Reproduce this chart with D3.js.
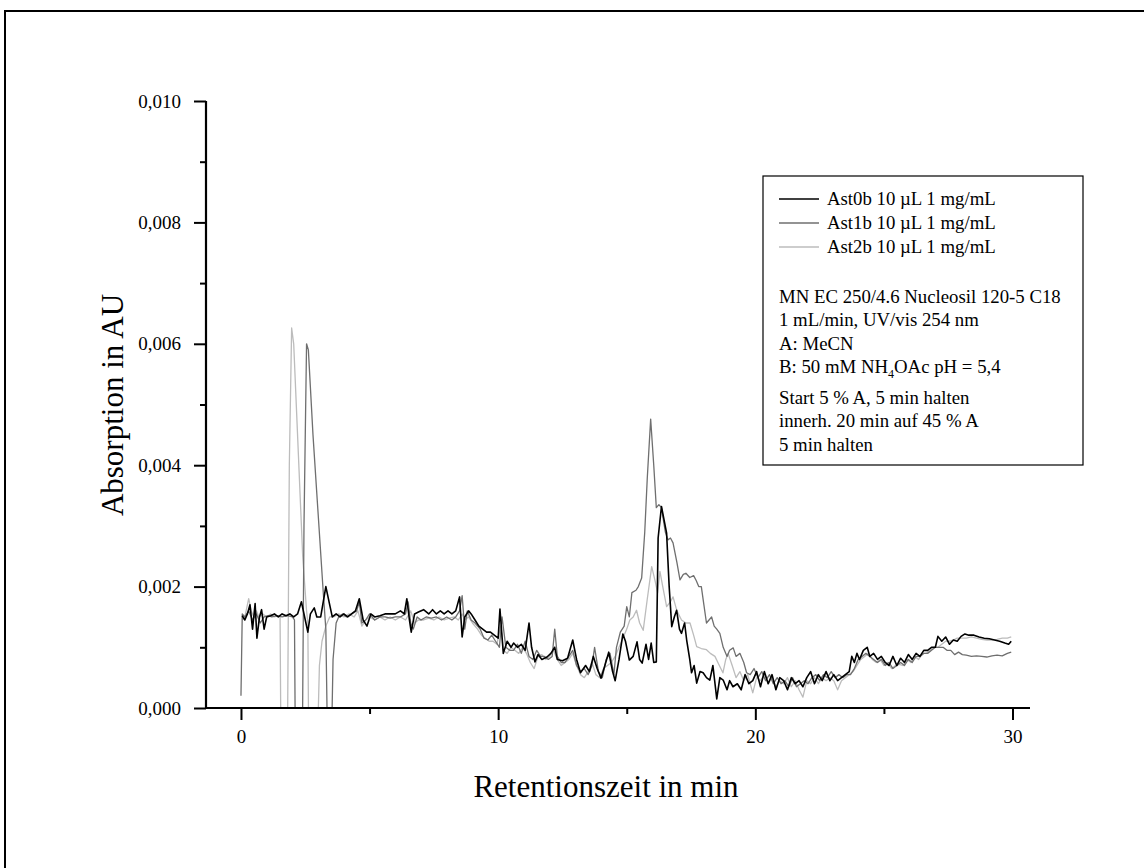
<!DOCTYPE html>
<html>
<head>
<meta charset="utf-8">
<script src="https://cdn.jsdelivr.net/npm/d3@7"></script>
<style>
  html, body { margin: 0; padding: 0; background: #fff; }
  svg { display: block; }
  text { font-family: "Liberation Serif", "Times New Roman", serif; fill: #000; }
</style>
</head>
<body>
<svg id="chart" width="1144" height="868"></svg>
<script>
// ---- data (absorbance in mAU, i.e. ×10^-3 AU; time in min) ----
const seriesNames = ["Ast0b 10 µL 1 mg/mL", "Ast1b 10 µL 1 mg/mL", "Ast2b 10 µL 1 mg/mL"];
const seriesColors = ["#000000", "#6f6f6f", "#bcbcbc"];

const ast0b = [[0.05,1.52],[0.15,1.45],[0.25,1.55],[0.35,1.7],[0.45,1.3],[0.55,1.72],[0.62,1.15],[0.72,1.5],[0.8,1.62],[0.9,1.3],[1.0,1.5],[1.15,1.52],[1.3,1.55],[1.45,1.5],[1.6,1.55],[1.75,1.52],[1.9,1.55],[2.05,1.5],[2.2,1.55],[2.35,1.75],[2.5,1.45],[2.6,1.25],[2.7,1.55],[2.85,1.65],[2.95,1.5],[3.1,1.5],[3.3,2.0],[3.45,1.7],[3.55,1.5],[3.7,1.55],[3.85,1.5],[4.0,1.55],[4.15,1.5],[4.3,1.55],[4.45,1.6],[4.6,1.8],[4.75,1.45],[4.9,1.35],[5.05,1.55],[5.2,1.5],[5.4,1.52],[5.6,1.55],[5.8,1.55],[6.0,1.55],[6.2,1.6],[6.35,1.55],[6.45,1.8],[6.55,1.45],[6.62,1.25],[6.75,1.55],[6.9,1.58],[7.1,1.62],[7.3,1.55],[7.45,1.62],[7.6,1.55],[7.75,1.6],[7.9,1.55],[8.05,1.6],[8.2,1.55],[8.35,1.6],[8.5,1.83],[8.6,1.17],[8.7,1.5],[8.85,1.6],[8.95,1.55],[9.1,1.45],[9.25,1.35],[9.4,1.3],[9.55,1.25],[9.7,1.25],[9.85,1.2],[10.0,1.15],[10.07,1.63],[10.2,0.9],[10.35,1.1],[10.5,1.0],[10.6,1.07],[10.75,1.0],[10.9,1.05],[11.05,0.95],[11.2,1.4],[11.3,1.0],[11.43,0.76],[11.55,0.88],[11.7,0.8],[11.9,0.84],[12.05,0.9],[12.2,1.0],[12.3,0.8],[12.5,0.78],[12.7,0.82],[12.9,1.12],[13.05,0.8],[13.2,0.58],[13.4,0.7],[13.55,0.6],[13.7,0.85],[13.85,0.65],[14.0,0.49],[14.15,0.7],[14.3,0.92],[14.45,0.6],[14.55,0.45],[14.7,0.8],[14.85,1.22],[14.95,1.1],[15.1,0.79],[15.25,0.85],[15.4,1.09],[15.5,0.8],[15.6,0.74],[15.75,1.05],[15.85,0.8],[15.95,1.07],[16.05,0.75],[16.15,0.76],[16.22,2.8],[16.35,3.32],[16.55,2.88],[16.65,2.0],[16.75,1.34],[16.85,1.5],[16.94,1.61],[17.05,1.3],[17.13,1.23],[17.25,1.4],[17.33,1.12],[17.45,0.8],[17.52,0.58],[17.62,0.7],[17.72,0.41],[17.85,0.6],[17.97,0.58],[18.1,0.5],[18.23,0.46],[18.35,0.7],[18.5,0.15],[18.62,0.5],[18.75,0.46],[18.9,0.3],[19.0,0.45],[19.13,0.35],[19.3,0.4],[19.45,0.3],[19.6,0.55],[19.75,0.4],[19.9,0.45],[20.05,0.6],[20.2,0.35],[20.35,0.6],[20.5,0.4],[20.65,0.55],[20.8,0.3],[20.95,0.5],[21.1,0.45],[21.25,0.3],[21.4,0.5],[21.55,0.4],[21.7,0.45],[21.85,0.35],[22.0,0.5],[22.15,0.6],[22.3,0.4],[22.45,0.55],[22.6,0.45],[22.75,0.6],[22.9,0.45],[23.05,0.55],[23.2,0.45],[23.35,0.5],[23.5,0.55],[23.65,0.6],[23.75,0.85],[23.85,0.75],[23.95,0.9],[24.05,0.8],[24.2,0.95],[24.35,1.0],[24.45,0.85],[24.6,0.9],[24.75,0.8],[24.9,0.85],[25.05,0.75],[25.2,0.7],[25.35,0.85],[25.5,0.7],[25.65,0.82],[25.8,0.75],[25.95,0.88],[26.1,0.8],[26.25,0.9],[26.4,0.85],[26.55,0.95],[26.7,0.95],[26.85,1.0],[27.0,1.0],[27.1,1.18],[27.25,1.1],[27.4,1.17],[27.55,1.05],[27.7,1.12],[27.85,1.1],[28.0,1.18],[28.15,1.22],[28.3,1.2],[28.5,1.2],[28.7,1.17],[28.9,1.15],[29.1,1.14],[29.3,1.12],[29.5,1.1],[29.7,1.07],[29.85,1.05],[29.95,1.1]];

const ast1b = [[0.0,0.2],[0.05,1.55],[0.15,1.5],[0.3,1.6],[0.45,1.45],[0.6,1.55],[0.75,1.4],[0.9,1.5],[1.05,1.52],[1.2,1.5],[1.4,1.52],[1.6,1.5],[1.8,1.52],[2.0,1.5],[2.08,1.45],[2.12,-1],[2.38,-1],[2.45,3.0],[2.55,6.0],[2.62,5.9],[2.8,4.5],[3.0,3.2],[3.2,1.9],[3.3,1.3],[3.38,-1],[3.5,-1],[3.58,0.8],[3.7,1.4],[3.8,1.5],[3.95,1.55],[4.1,1.5],[4.3,1.55],[4.5,1.6],[4.6,1.75],[4.7,1.4],[4.85,1.45],[5.0,1.55],[5.2,1.45],[5.4,1.5],[5.6,1.5],[5.8,1.48],[6.0,1.5],[6.2,1.5],[6.4,1.55],[6.5,1.75],[6.6,1.4],[6.7,1.3],[6.85,1.5],[7.0,1.45],[7.2,1.5],[7.4,1.48],[7.6,1.5],[7.8,1.45],[8.0,1.5],[8.2,1.45],[8.35,1.5],[8.5,1.6],[8.6,1.85],[8.7,1.3],[8.8,1.6],[8.95,1.45],[9.1,1.4],[9.3,1.3],[9.45,1.15],[9.6,1.12],[9.75,1.2],[9.9,1.1],[10.05,1.0],[10.15,1.5],[10.3,1.0],[10.45,0.95],[10.6,0.95],[10.75,1.05],[10.9,0.9],[11.05,1.1],[11.2,0.85],[11.35,0.8],[11.5,0.95],[11.65,0.85],[11.8,0.85],[11.95,0.8],[12.1,0.85],[12.2,1.3],[12.3,0.85],[12.45,0.75],[12.6,0.75],[12.75,0.85],[12.9,0.95],[13.05,0.7],[13.2,0.6],[13.35,0.65],[13.5,0.55],[13.65,0.7],[13.75,1.0],[13.9,0.6],[14.05,0.5],[14.2,0.8],[14.35,0.9],[14.5,0.55],[14.6,1.0],[14.75,1.25],[14.9,1.35],[15.0,1.67],[15.1,1.5],[15.2,1.9],[15.36,1.94],[15.45,2.0],[15.58,2.14],[15.7,2.9],[15.8,3.8],[15.93,4.76],[16.05,4.0],[16.15,3.3],[16.25,3.35],[16.35,3.3],[16.5,2.9],[16.6,2.77],[16.7,2.8],[16.8,2.72],[16.95,2.4],[17.07,2.11],[17.2,2.2],[17.3,2.22],[17.45,2.15],[17.6,2.18],[17.7,2.1],[17.8,2.0],[17.9,2.0],[18.0,1.7],[18.1,1.4],[18.2,1.45],[18.3,1.5],[18.4,1.35],[18.5,1.3],[18.62,1.23],[18.75,1.0],[18.9,0.85],[19.0,0.95],[19.14,0.99],[19.25,0.85],[19.4,0.9],[19.55,0.75],[19.66,0.58],[19.8,0.55],[19.95,0.65],[20.1,0.5],[20.25,0.6],[20.4,0.45],[20.55,0.55],[20.7,0.4],[20.85,0.5],[21.0,0.4],[21.15,0.45],[21.3,0.35],[21.45,0.5],[21.6,0.35],[21.75,0.4],[21.9,0.45],[22.05,0.4],[22.2,0.5],[22.35,0.55],[22.5,0.45],[22.65,0.55],[22.8,0.5],[22.95,0.6],[23.1,0.5],[23.25,0.55],[23.4,0.5],[23.55,0.55],[23.7,0.55],[23.85,0.65],[24.0,0.8],[24.15,0.85],[24.3,0.9],[24.45,0.85],[24.6,0.8],[24.75,0.75],[24.9,0.8],[25.05,0.7],[25.2,0.75],[25.35,0.65],[25.5,0.7],[25.65,0.75],[25.8,0.7],[25.95,0.8],[26.1,0.75],[26.25,0.85],[26.4,0.85],[26.55,0.9],[26.7,0.9],[26.85,0.95],[27.0,1.0],[27.15,1.0],[27.3,1.0],[27.45,0.95],[27.6,0.95],[27.75,0.88],[27.9,0.92],[28.05,0.88],[28.2,0.87],[28.4,0.85],[28.6,0.86],[28.8,0.85],[29.0,0.84],[29.2,0.86],[29.4,0.87],[29.6,0.86],[29.8,0.9],[29.95,0.92]];

const ast2b = [[0.05,1.45],[0.15,1.5],[0.3,1.8],[0.4,1.6],[0.5,1.5],[0.6,1.6],[0.7,1.5],[0.85,1.55],[1.0,1.5],[1.15,1.55],[1.3,1.5],[1.45,1.52],[1.52,1.5],[1.56,-1],[1.8,-1],[1.88,4.0],[1.97,6.26],[2.05,6.0],[2.2,4.5],[2.4,2.5],[2.55,1.6],[2.6,1.4],[2.64,-1],[2.95,-1],[3.05,0.7],[3.15,1.1],[3.3,1.35],[3.45,1.5],[3.6,1.5],[3.8,1.55],[4.0,1.5],[4.2,1.55],[4.4,1.5],[4.55,1.6],[4.7,1.35],[4.85,1.45],[5.0,1.5],[5.2,1.45],[5.4,1.5],[5.6,1.45],[5.8,1.5],[6.0,1.45],[6.2,1.5],[6.4,1.45],[6.6,1.6],[6.75,1.4],[6.9,1.45],[7.1,1.45],[7.3,1.48],[7.5,1.45],[7.7,1.5],[7.9,1.45],[8.1,1.48],[8.3,1.5],[8.45,1.45],[8.6,1.55],[8.7,1.45],[8.85,1.5],[9.0,1.4],[9.2,1.3],[9.35,1.2],[9.5,1.15],[9.65,1.1],[9.8,1.1],[9.95,1.05],[10.1,1.35],[10.2,0.95],[10.35,0.9],[10.5,1.0],[10.65,0.95],[10.8,0.9],[10.95,1.0],[11.1,0.9],[11.25,0.75],[11.4,0.65],[11.55,0.85],[11.7,0.88],[11.85,0.8],[12.0,0.85],[12.15,0.95],[12.3,0.8],[12.45,0.7],[12.6,0.75],[12.75,0.8],[12.9,0.9],[13.05,0.7],[13.2,0.55],[13.35,0.5],[13.5,0.6],[13.65,0.75],[13.8,0.55],[13.95,0.5],[14.1,0.65],[14.25,0.7],[14.4,0.75],[14.55,0.85],[14.7,1.0],[14.85,1.15],[15.0,1.3],[15.12,1.45],[15.25,1.5],[15.38,1.61],[15.5,1.4],[15.64,1.28],[15.8,1.8],[15.97,2.33],[16.1,2.1],[16.2,1.9],[16.29,2.25],[16.4,2.0],[16.55,1.67],[16.7,1.75],[16.8,1.83],[16.95,1.6],[17.13,1.45],[17.3,1.4],[17.46,1.4],[17.6,1.2],[17.72,1.01],[17.9,0.98],[18.1,0.96],[18.25,0.9],[18.43,0.85],[18.6,0.7],[18.74,0.58],[18.85,0.8],[18.94,0.9],[19.1,0.7],[19.25,0.5],[19.4,0.6],[19.55,0.45],[19.7,0.55],[19.9,0.25],[20.05,0.5],[20.2,0.45],[20.35,0.55],[20.5,0.4],[20.65,0.5],[20.8,0.35],[20.95,0.45],[21.1,0.4],[21.25,0.5],[21.4,0.35],[21.55,0.45],[21.7,0.3],[21.85,0.18],[22.0,0.45],[22.15,0.4],[22.3,0.5],[22.45,0.4],[22.6,0.5],[22.75,0.45],[22.9,0.5],[23.05,0.45],[23.2,0.3],[23.35,0.45],[23.5,0.5],[23.65,0.55],[23.8,0.6],[23.95,0.7],[24.1,0.8],[24.25,0.85],[24.4,0.9],[24.55,0.8],[24.7,0.75],[24.85,0.8],[25.0,0.7],[25.15,0.75],[25.3,0.65],[25.45,0.7],[25.6,0.72],[25.75,0.7],[25.9,0.8],[26.05,0.75],[26.2,0.85],[26.35,0.8],[26.5,0.9],[26.65,0.9],[26.8,0.95],[26.95,1.0],[27.1,1.0],[27.25,1.05],[27.4,1.1],[27.55,1.1],[27.7,1.12],[27.85,1.15],[28.0,1.15],[28.2,1.15],[28.4,1.17],[28.6,1.15],[28.8,1.13],[29.0,1.12],[29.2,1.12],[29.4,1.13],[29.6,1.15],[29.8,1.15],[29.95,1.17]];

const xMajorTicks = [0, 10, 20, 30];
const xMinorTicks = [5, 15, 25];
const yMajorTicks = [0, 0.002, 0.004, 0.006, 0.008, 0.010];
const yMinorTicks = [0.001, 0.003, 0.005, 0.007, 0.009];
const xDomain = [-1.36, 30.68];
const yDomain = [0, 0.010];
const xTitle = "Retentionszeit in min";
const yTitle = "Absorption in AU";
const noteLines = [
  ["MN EC 250/4.6 Nucleosil 120-5 C18"],
  ["1 mL/min, UV/vis 254 nm"],
  ["A: MeCN"],
  ["B: 50 mM NH", "4", "OAc pH = 5,4"],
  ["Start 5 % A, 5 min halten"],
  ["innerh. 20 min auf 45 % A"],
  ["5 min halten"]
];

// ---- layout ----
const svg = d3.select("#chart");
const pLeft = 206, pRight = 1030, pTop = 101, pBottom = 708;

const x = d3.scaleLinear().domain(xDomain).range([pLeft, pRight]);
const y = d3.scaleLinear().domain(yDomain).range([pBottom, pTop]);

// outer frame (left and top edges visible)
svg.append("path")
  .attr("d", "M5,868 L5,11 L1144,11")
  .attr("fill", "none").attr("stroke", "#000").attr("stroke-width", 2);

svg.append("defs").append("clipPath").attr("id", "plotclip")
  .append("rect").attr("x", pLeft).attr("y", pTop - 2).attr("width", pRight - pLeft).attr("height", pBottom - pTop + 2);

// series
const series = [ast0b, ast1b, ast2b];
const line = d3.line().x(d => x(d[0])).y(d => y(d[1] / 1000));
const g = svg.append("g").attr("clip-path", "url(#plotclip)");
[2, 1, 0].forEach(i => {
  g.append("path")
    .datum(series[i])
    .attr("d", line)
    .attr("fill", "none")
    .attr("stroke", seriesColors[i])
    .attr("stroke-width", i === 0 ? 1.6 : 1.3)
    .attr("stroke-linejoin", "round");
});

// axes
const fmtY = v => d3.format(".3f")(v).replace(".", ",");
const xAxis = d3.axisBottom(x).tickValues(xMajorTicks).tickSize(12).tickPadding(10).tickFormat(d3.format("d"));
const xAxisMinor = d3.axisBottom(x).tickValues(xMinorTicks).tickSize(6).tickFormat("");
const yAxis = d3.axisLeft(y).tickValues(yMajorTicks).tickSize(12).tickPadding(13).tickFormat(fmtY);
const yAxisMinor = d3.axisLeft(y).tickValues(yMinorTicks).tickSize(6).tickFormat("");

function styleAxis(sel) {
  sel.select(".domain").remove();
  sel.selectAll(".tick line").attr("stroke", "#000").attr("stroke-width", 2);
  sel.selectAll(".tick text").attr("font-family", "'Liberation Serif', serif").attr("font-size", 19).attr("fill", "#000");
}

svg.append("g").attr("transform", `translate(0,${pBottom})`).call(xAxis).call(styleAxis);
svg.append("g").attr("transform", `translate(0,${pBottom})`).call(xAxisMinor).call(styleAxis);
svg.append("g").attr("transform", `translate(${pLeft},0)`).call(yAxis).call(styleAxis);
svg.append("g").attr("transform", `translate(${pLeft},0)`).call(yAxisMinor).call(styleAxis);

// axis lines
svg.append("line").attr("x1", pLeft).attr("x2", pRight).attr("y1", pBottom).attr("y2", pBottom)
  .attr("stroke", "#000").attr("stroke-width", 2.2);
svg.append("line").attr("x1", pLeft).attr("x2", pLeft).attr("y1", pTop).attr("y2", pBottom + 1)
  .attr("stroke", "#000").attr("stroke-width", 2.2);

// axis titles
svg.append("text").attr("x", 606).attr("y", 797)
  .attr("text-anchor", "middle").attr("font-size", 31).text(xTitle);
svg.append("text").attr("transform", `translate(123,405) rotate(-90)`)
  .attr("text-anchor", "middle").attr("font-size", 31).text(yTitle);

// legend box
const lg = svg.append("g");
lg.append("rect").attr("x", 763).attr("y", 176).attr("width", 320).attr("height", 289)
  .attr("fill", "#fff").attr("stroke", "#000").attr("stroke-width", 1.2);
seriesNames.forEach((name, i) => {
  const yy = 199 + i * 24;
  lg.append("line").attr("x1", 779).attr("x2", 819).attr("y1", yy).attr("y2", yy)
    .attr("stroke", seriesColors[i]).attr("stroke-width", i === 0 ? 1.6 : 1.3);
  lg.append("text").attr("x", 827).attr("y", yy + 6).attr("font-size", 18.8).text(name);
});
const noteY = [297, 320, 344, 367, 398, 421, 445];
noteLines.forEach((parts, i) => {
  const t = lg.append("text").attr("x", 779).attr("y", noteY[i] + 6).attr("font-size", 18.8);
  if (parts.length === 1) {
    t.text(parts[0]);
  } else {
    t.append("tspan").text(parts[0]);
    t.append("tspan").attr("font-size", 12).attr("dy", 5).text(parts[1]);
    t.append("tspan").attr("dy", -5).text(parts[2]);
  }
});
</script>
</body>
</html>
